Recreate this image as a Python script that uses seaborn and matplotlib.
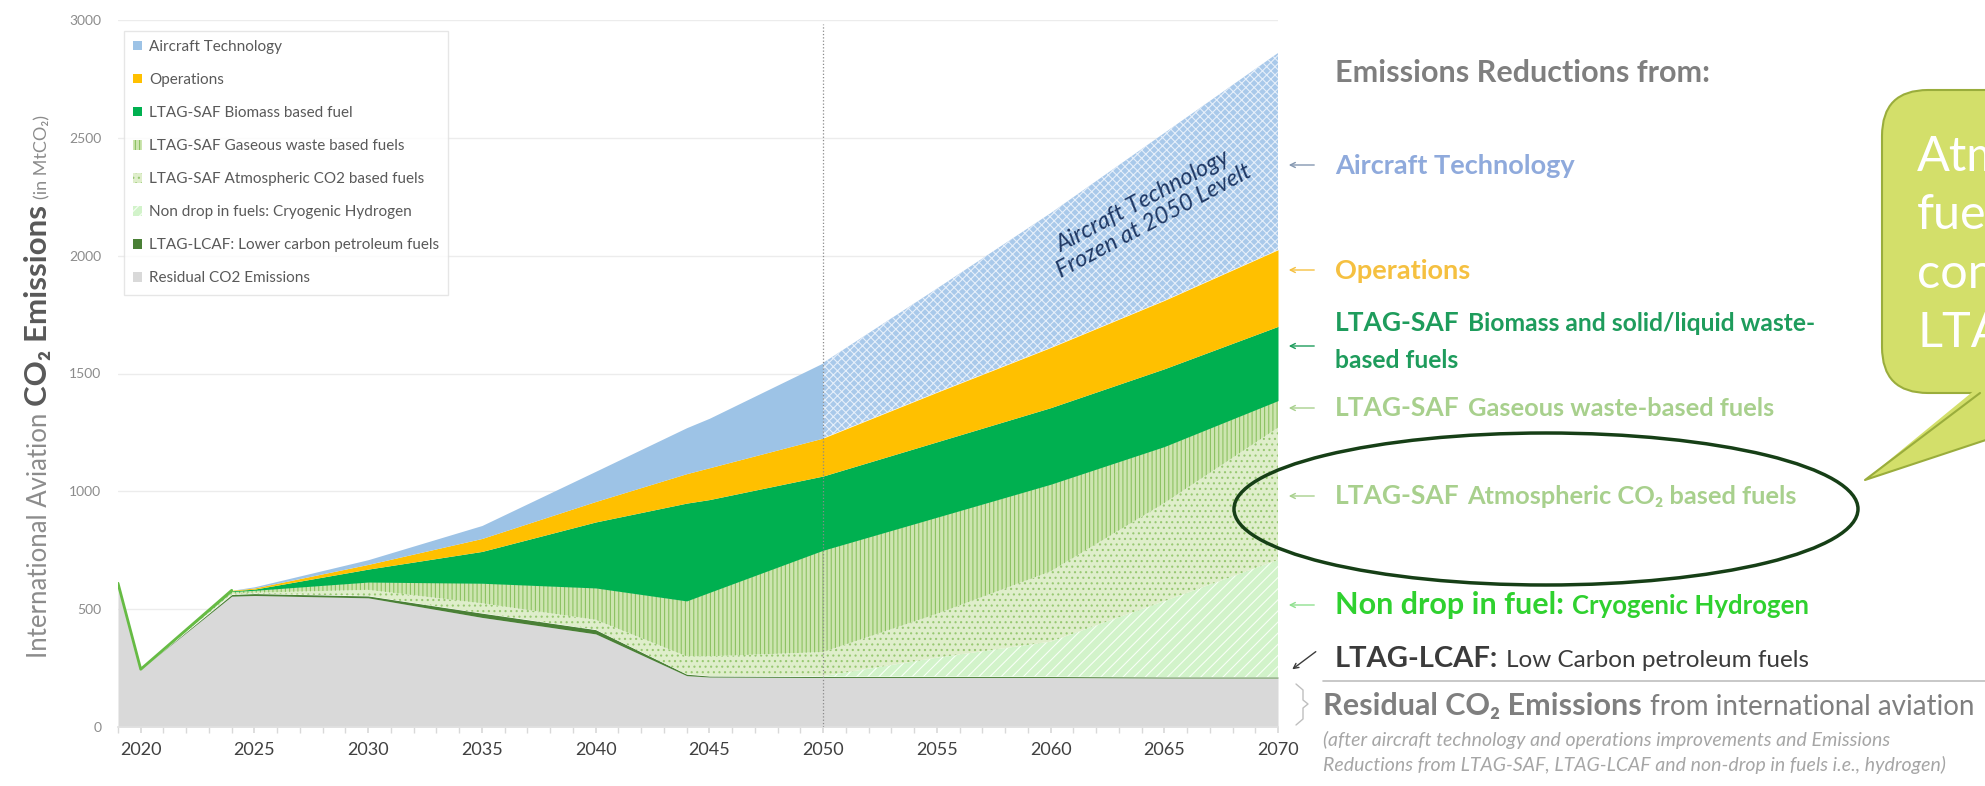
import numpy as np
import pandas as pd
import matplotlib
matplotlib.use("Agg")
import matplotlib.pyplot as plt
import seaborn as sns
from matplotlib.patches import FancyBboxPatch, Ellipse, Polygon, FancyArrowPatch
from matplotlib.transforms import IdentityTransform
from matplotlib.lines import Line2D
from matplotlib.ticker import MultipleLocator

W, H = 1985, 786

# ── данные (MtCO2) ──
years = [2019, 2020, 2024, 2025, 2030, 2035, 2040, 2044, 2045, 2050, 2055, 2060, 2065, 2070]
residual      = [610, 245, 555, 558, 548, 465, 395, 218, 212, 210, 210, 210, 208, 208]
lcaf          = [0, 0, 7, 8, 8, 18, 18, 6, 4, 4, 4, 4, 4, 4]
hydrogen      = [0, 0, 0, 0, 0, 0, 0, 0, 0, 2, 80, 148, 322, 497]
atmospheric   = [0, 0, 4, 4, 26, 42, 42, 76, 84, 102, 186, 298, 416, 561]
gaseous       = [0, 0, 9, 10, 33, 85, 135, 235, 271, 432, 410, 370, 240, 115]
biomass       = [0, 0, 3, 5, 55, 135, 280, 415, 394, 315, 320, 325, 330, 315]
operations    = [0, 0, 2, 5, 20, 55, 87, 125, 135, 161, 210, 255, 290, 325]
aircraft_tech = [0, 0, 0, 5, 20, 55, 128, 195, 210, 319, 440, 570, 710, 835]

legend_labels = [
    "Aircraft Technology",
    "Operations",
    "LTAG-SAF Biomass based fuel",
    "LTAG-SAF Gaseous waste based fuels",
    "LTAG-SAF Atmospheric CO2 based fuels",
    "Non drop in fuels: Cryogenic Hydrogen",
    "LTAG-LCAF: Lower carbon petroleum fuels",
    "Residual CO2 Emissions",
]
x_ticks = [2020, 2025, 2030, 2035, 2040, 2045, 2050, 2055, 2060, 2065, 2070]
y_ticks = [0, 500, 1000, 1500, 2000, 2500, 3000]

df = pd.DataFrame({
    "residual": residual, "lcaf": lcaf, "hydrogen": hydrogen,
    "atmospheric": atmospheric, "gaseous": gaseous, "biomass": biomass,
    "operations": operations, "aircraft_tech": aircraft_tech,
}, index=years)
cum = df.cumsum(axis=1)
yrs = np.array(years)

sns.set_theme(style="white")
plt.rcParams["font.family"] = ["Lato", "DejaVu Sans"]
plt.rcParams["hatch.linewidth"] = 0.8

fig = plt.figure(figsize=(W / 100, H / 100), dpi=100)
ax = fig.add_axes([118 / W, 1 - 727 / H, 1160 / W, 707 / H])

styles = {
    "residual":    dict(facecolor="#d9d9d9"),
    "lcaf":        dict(facecolor="#4a8036"),
    "hydrogen":    dict(facecolor="#d2f3ca", hatch="///", edgecolor="#f8fff6"),
    "atmospheric": dict(facecolor="#dfeecb", hatch="...", edgecolor="#98c872"),
    "gaseous":     dict(facecolor="#cde5b0", hatch="||||", edgecolor="#8cc262"),
    "biomass":     dict(facecolor="#00b050"),
    "operations":  dict(facecolor="#ffc000"),
}

handles = {}
prev = np.zeros(len(years))
for col in ["residual", "lcaf", "hydrogen", "atmospheric", "gaseous", "biomass", "operations"]:
    top = cum[col].values
    kw = dict(styles[col])
    kw.setdefault("edgecolor", kw["facecolor"])
    handles[col] = ax.fill_between(yrs, prev, top, linewidth=0, **kw)
    prev = top

# технологии ВС: сплошная заливка до 2050, штриховка после
top = cum["aircraft_tech"].values
handles["aircraft_tech"] = ax.fill_between(yrs, prev, top, where=yrs <= 2050,
                                           facecolor="#9dc3e6", edgecolor="#9dc3e6", linewidth=0)
ax.fill_between(yrs, prev, top, where=yrs >= 2050, facecolor="#a9c9ea",
                hatch="xxxx", edgecolor="#e6effa", linewidth=0)

# зелёный контур 2019–2024
sns.lineplot(x=yrs[:3], y=cum["aircraft_tech"].values[:3], color="#66bb44", lw=2, ax=ax)

ax.axvline(2050, ymax=0.995, color="#8a8a8a", lw=0.9, ls=":", zorder=5)

ax.set_xlim(2019, 2070)
ax.set_ylim(0, 3000)
ax.set_xticks(x_ticks)
ax.set_yticks(y_ticks)
ax.xaxis.set_minor_locator(MultipleLocator(1))
ax.yaxis.grid(True, color="#ececec", lw=1)
ax.set_axisbelow(True)
for s in ["top", "right", "left"]:
    ax.spines[s].set_visible(False)
ax.spines["bottom"].set_color("#e0e0e0")
ax.tick_params(axis="x", which="both", bottom=True, length=4, color="#d9d9d9",
               labelsize=13, labelcolor="#404040", pad=7)
ax.tick_params(axis="y", length=0, labelsize=10, labelcolor="#8c8c8c", pad=12)

ax.text(2064.3, 2190, "Aircraft Technology\nFrozen at 2050 Levelt", rotation=28,
        rotation_mode="anchor", ha="center", va="center", style="italic",
        fontsize=17, color="#1f3864", linespacing=1.1, zorder=6)

order = ["aircraft_tech", "operations", "biomass", "gaseous", "atmospheric",
         "hydrogen", "lcaf", "residual"]
leg = ax.legend([handles[k] for k in order], legend_labels, loc="upper left",
                bbox_to_anchor=(0.005, 0.985), borderaxespad=0, fontsize=11,
                labelcolor="#595959", handlelength=0.6, handleheight=0.6,
                handletextpad=0.45, labelspacing=1.25, borderpad=0.6,
                frameon=True, fancybox=False, edgecolor="#e0e0e0")

# ── текст справа ──
renderer = fig.canvas.get_renderer()
ident = IdentityTransform()


def py(y):
    return H - y


def rich(x, y, parts):
    for s, kw, gap in parts:
        t = fig.text(x / W, 1 - y / H, s, ha="left", va="baseline", **kw)
        x = t.get_window_extent(renderer).x1 + gap
    return x


def rich_vertical(x, y, parts):
    for s, kw, gap in parts:
        t = fig.text(x / W, 1 - y / H, s, ha="left", va="baseline",
                     rotation=90, rotation_mode="anchor", **kw)
        y = H - t.get_window_extent(renderer).y1 - gap
    return y


def arrow(x0, y0, x1, y1, color):
    fig.add_artist(FancyArrowPatch((x0, py(y0)), (x1, py(y1)), arrowstyle="->",
                                   mutation_scale=9, color=color, lw=1,
                                   transform=ident))


rich_vertical(47, 658, [
    ("International Aviation", dict(fontsize=18.5, color="#8c8c8c"), 7),
    ("CO₂ Emissions", dict(fontsize=22.5, color="#595959", fontweight="bold"), 6),
    ("(in MtCO₂)", dict(fontsize=13, color="#8c8c8c"), 0),
])

TX = 1335
bold = "bold"
rich(TX, 82, [("Emissions Reductions from:", dict(fontsize=22, fontweight=bold, color="#7f7f7f"), 0)])

rich(TX, 174, [("Aircraft Technology", dict(fontsize=19.5, fontweight=bold, color="#8faadc"), 0)])
arrow(1317, 165, 1286, 165, "#8497b0")

rich(TX, 279, [("Operations", dict(fontsize=19.5, fontweight=bold, color="#f5c040"), 0)])
arrow(1317, 270, 1286, 270, "#f5c040")

rich(TX, 331, [("LTAG-SAF", dict(fontsize=19, fontweight=bold, color="#1e9c5c"), 8),
               ("Biomass and solid/liquid waste-", dict(fontsize=17.7, fontweight=bold, color="#1e9c5c"), 0)])
rich(TX, 368, [("based fuels", dict(fontsize=17.7, fontweight=bold, color="#1e9c5c"), 0)])
arrow(1317, 346, 1286, 346, "#1e9c5c")

rich(TX, 416, [("LTAG-SAF", dict(fontsize=19, fontweight=bold, color="#a8d08d"), 8),
               ("Gaseous waste-based fuels", dict(fontsize=18.3, fontweight=bold, color="#a8d08d"), 0)])
arrow(1317, 408, 1286, 408, "#a8d08d")

rich(TX, 504, [("LTAG-SAF", dict(fontsize=19, fontweight=bold, color="#a8d08d"), 8),
               ("Atmospheric CO₂ based fuels", dict(fontsize=18.3, fontweight=bold, color="#a8d08d"), 0)])
arrow(1317, 496, 1286, 496, "#a8d08d")

rich(TX, 614, [("Non drop in fuel:", dict(fontsize=22, fontweight=bold, color="#2fd12f"), 8),
               ("Cryogenic Hydrogen", dict(fontsize=18.5, fontweight=bold, color="#2fd12f"), 0)])
arrow(1317, 605, 1286, 605, "#8fe08f")

rich(TX, 667, [("LTAG-LCAF:", dict(fontsize=21, fontweight=bold, color="#3b3b3b"), 8),
               ("Low Carbon petroleum fuels", dict(fontsize=17.5, color="#3b3b3b"), 0)])
arrow(1318, 650, 1290, 671, "#3b3b3b")

fig.add_artist(Line2D([1323, W], [py(681), py(681)], color="#bfbfbf", lw=1.2, transform=ident))
brace = [(1296, 684), (1303, 690), (1303, 700), (1308, 704), (1303, 708), (1303, 719), (1296, 725)]
fig.add_artist(Line2D([p[0] for p in brace], [py(p[1]) for p in brace],
                      color="#bfbfbf", lw=1, transform=ident))

rich(1323, 715, [("Residual CO₂ Emissions", dict(fontsize=22, fontweight=bold, color="#7f7f7f"), 8),
                 ("from international aviation", dict(fontsize=20, color="#7f7f7f"), 0)])
rich(1323, 746, [("(after aircraft technology and operations improvements and Emissions",
                  dict(fontsize=14, style="italic", color="#a6a6a6"), 0)])
rich(1323, 771, [("Reductions from LTAG-SAF, LTAG-LCAF and non-drop in fuels i.e., hydrogen)",
                  dict(fontsize=14, style="italic", color="#a6a6a6"), 0)])

# эллипс вокруг «Atmospheric CO2»
fig.add_artist(Ellipse((1546, py(509)), 624, 152, fill=False, edgecolor="#163f16",
                       lw=2.5, transform=ident))

# выноска справа (обрезана краем рисунка)
box_face, box_edge = "#d3df6a", "#9aad3c"
fig.add_artist(FancyBboxPatch((1882, py(393)), 300, 303,
                              boxstyle="round,pad=0,rounding_size=46",
                              facecolor=box_face, edgecolor=box_edge, lw=1.5,
                              transform=ident))
fig.add_artist(Polygon([(1976, py(389)), (1865, py(480)), (2010, py(432)), (2010, py(389))],
                       closed=True, facecolor=box_face, edgecolor="none", transform=ident))
fig.add_artist(Line2D([1980, 1865, 2010], [py(393), py(480), py(432)],
                      color=box_edge, lw=1.5, transform=ident))
fig.text(1917 / W, 1 - 347 / H, "Atmospheric\nfuels\ncontribute\nLTAG", ha="left",
         va="baseline", fontsize=35, color="white", linespacing=1.41,
         family=["Lato", "DejaVu Sans"])

fig.savefig("out.png", dpi=100, facecolor="white")
